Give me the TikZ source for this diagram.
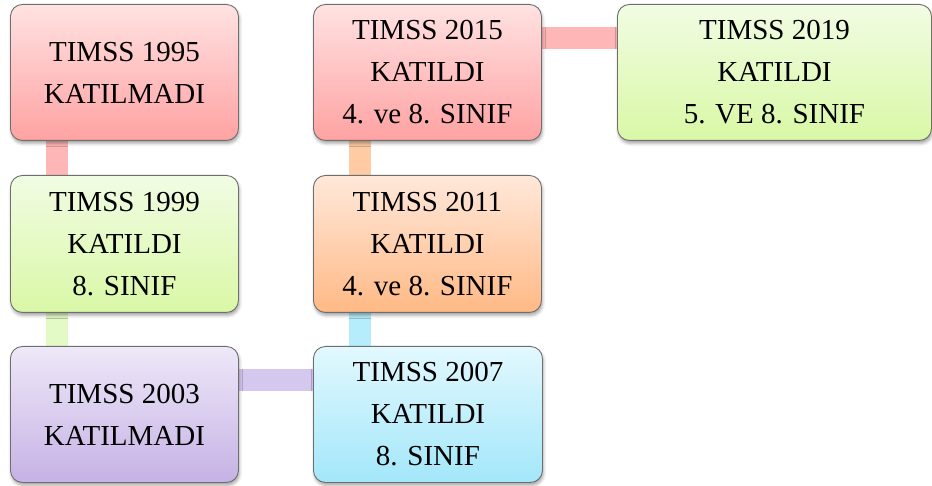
\documentclass[tikz,border=0pt]{standalone}
\usepackage{fontspec}
\setmainfont{Liberation Serif}
\usetikzlibrary{shadows.blur,backgrounds}
\definecolor{pinkT}{HTML}{FFE2E2}
\definecolor{pinkB}{HTML}{FFA2A2}
\definecolor{pinkBar}{HTML}{FFB6B6}
\definecolor{greenT}{HTML}{F1FCE3}
\definecolor{greenB}{HTML}{D9F8A6}
\definecolor{greenBar}{HTML}{E3F9C6}
\definecolor{purT}{HTML}{EEE8F8}
\definecolor{purB}{HTML}{C6B2E5}
\definecolor{purBar}{HTML}{D5C8EE}
\definecolor{bluT}{HTML}{E2F8FE}
\definecolor{bluB}{HTML}{A3E7FA}
\definecolor{bluBar}{HTML}{B5EDFC}
\definecolor{orT}{HTML}{FFE8DA}
\definecolor{orB}{HTML}{FFB985}
\definecolor{orBar}{HTML}{FFCBA4}
\definecolor{edge}{HTML}{6E6E6E}
\tikzset{
  box/.style={draw=edge, line width=0.9pt, rounded corners=12pt, anchor=north west,
    inner sep=0pt, align=center, minimum height=136pt,
    font=\fontsize{29}{42}\selectfont,
    blur shadow={shadow xshift=1pt, shadow yshift=-3pt, shadow opacity=35, shadow blur radius=3pt}},
  pinkbox/.style={box, top color=pinkT, bottom color=pinkB},
  greenbox/.style={box, top color=greenT, bottom color=greenB},
  purbox/.style={box, top color=purT, bottom color=purB},
  blubox/.style={box, top color=bluT, bottom color=bluB},
  orbox/.style={box, top color=orT, bottom color=orB},
  bar/.style={line width=22pt, draw=#1}
}
\begin{document}
\begin{tikzpicture}[x=1pt,y=1pt]
\useasboundingbox (0,0) rectangle (932,-486);
\node[pinkbox, minimum width=228pt] (a1995) at (10,-4) {TIMSS 1995\\KATILMADI};
\node[greenbox, minimum width=228pt, minimum height=137pt] (a1999) at (10,-175) {TIMSS 1999\\KATILDI\\8. SINIF};
\node[purbox, minimum width=228pt] (a2003) at (10,-346) {TIMSS 2003\\KATILMADI};
\node[blubox, minimum width=229pt] (a2007) at (313,-346) {TIMSS 2007\\KATILDI\\8. SINIF};
\node[orbox, minimum width=228pt, minimum height=137pt] (a2011) at (313,-175) {TIMSS 2011\\KATILDI\\4. ve 8. SINIF};
\node[pinkbox, minimum width=228pt] (a2015) at (313,-4) {TIMSS 2015\\KATILDI\\4. ve 8. SINIF};
\node[greenbox, minimum width=314pt] (a2019) at (617,-4) {TIMSS 2019\\KATILDI\\5. VE 8. SINIF};
\begin{pgfonlayer}{background}
\draw[bar=pinkBar] ([xshift=47pt]a1995.south west) -- ([xshift=47pt]a1999.north west);
\draw[bar=greenBar] ([xshift=47pt]a1999.south west) -- ([xshift=47pt]a2003.north west);
\draw[bar=purBar] ([yshift=-34pt]a2003.north east) -- ([yshift=-34pt]a2007.north west);
\draw[bar=bluBar] ([xshift=47pt]a2007.north west) -- ([xshift=47pt]a2011.south west);
\draw[bar=orBar] ([xshift=47pt]a2011.north west) -- ([xshift=47pt]a2015.south west);
\draw[bar=pinkBar] ([yshift=-34pt]a2015.north east) -- ([yshift=-34pt]a2019.north west);
\end{pgfonlayer}
\end{tikzpicture}
\end{document}
